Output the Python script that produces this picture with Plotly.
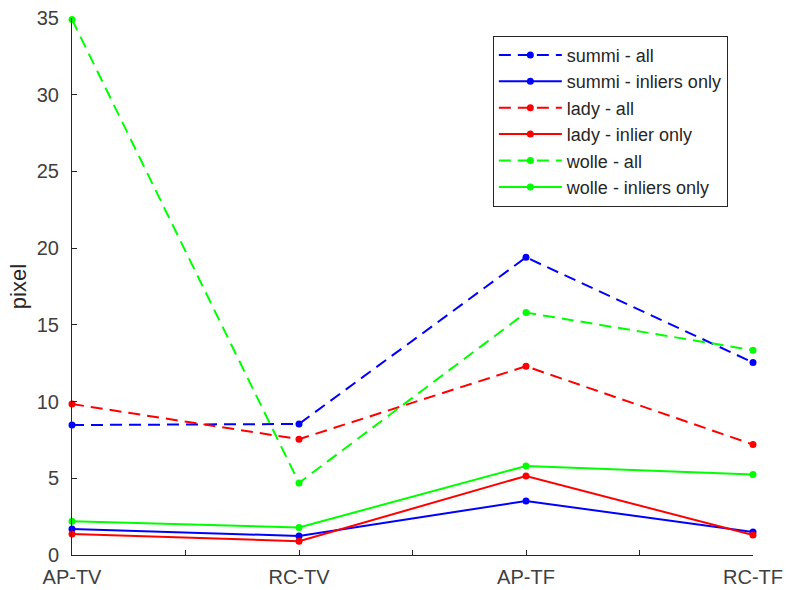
import plotly.graph_objects as go

categories = ["AP-TV", "RC-TV", "AP-TF", "RC-TF"]
x_pos = [1, 2, 3, 4]

summi_all = [8.47, 8.54, 19.4, 12.55]
summi_inliers = [1.7, 1.24, 3.52, 1.5]
lady_all = [9.84, 7.55, 12.3, 7.2]
lady_inliers = [1.37, 0.9, 5.15, 1.3]
wolle_all = [34.9, 4.7, 15.8, 13.35]
wolle_inliers = [2.2, 1.8, 5.8, 5.25]

series = [
    ("summi - all", summi_all, "#0000ff", "dash"),
    ("summi - inliers only", summi_inliers, "#0000ff", "solid"),
    ("lady - all", lady_all, "#ff0000", "dash"),
    ("lady - inlier only", lady_inliers, "#ff0000", "solid"),
    ("wolle - all", wolle_all, "#00ff00", "dash"),
    ("wolle - inliers only", wolle_inliers, "#00ff00", "solid"),
]

fig = go.Figure()
for name, vals, color, dash in series:
    fig.add_trace(go.Scatter(
        x=x_pos, y=vals, name=name, mode="lines+markers",
        line=dict(color=color, width=2, dash="12px,7px" if dash == "dash" else "solid"),
        marker=dict(color=color, size=7),
        cliponaxis=False,
    ))

tick_vals = [1, 1.5, 2, 2.5, 3, 3.5, 4]
tick_text = [categories[int(v) - 1] if float(v).is_integer() else "" for v in tick_vals]

family = "Liberation Sans, Arial, sans-serif"
axis_font = dict(family=family, size=20, color="#404040")

fig.update_layout(
    width=787, height=590,
    margin=dict(l=72, r=34, t=18, b=35),
    paper_bgcolor="white", plot_bgcolor="white",
    font=dict(family=family, color="#262626"),
    xaxis=dict(
        range=[1, 4], tickvals=tick_vals, ticktext=tick_text,
        ticks="inside", ticklen=5, tickcolor="#262626",
        showline=True, linecolor="#262626", linewidth=1,
        showgrid=False, zeroline=False, tickfont=axis_font,
        ticklabelstandoff=4, automargin=False,
    ),
    yaxis=dict(
        range=[0, 35], tickvals=list(range(0, 36, 5)),
        ticks="inside", ticklen=5, tickcolor="#262626",
        showline=True, linecolor="#262626", linewidth=1,
        showgrid=False, zeroline=False, tickfont=axis_font,
        ticklabelstandoff=8, automargin=False,
        title=dict(text="pixel", font=dict(size=22, color="#262626"), standoff=4),
    ),
    legend=dict(
        x=0.618, y=0.967, xanchor="left", yanchor="top",
        bgcolor="white", bordercolor="#262626", borderwidth=1,
        font=dict(size=18, color="#262626"),
        itemwidth=63, tracegroupgap=0,
    ),
    showlegend=True,
)

fig.write_html("out.html")
